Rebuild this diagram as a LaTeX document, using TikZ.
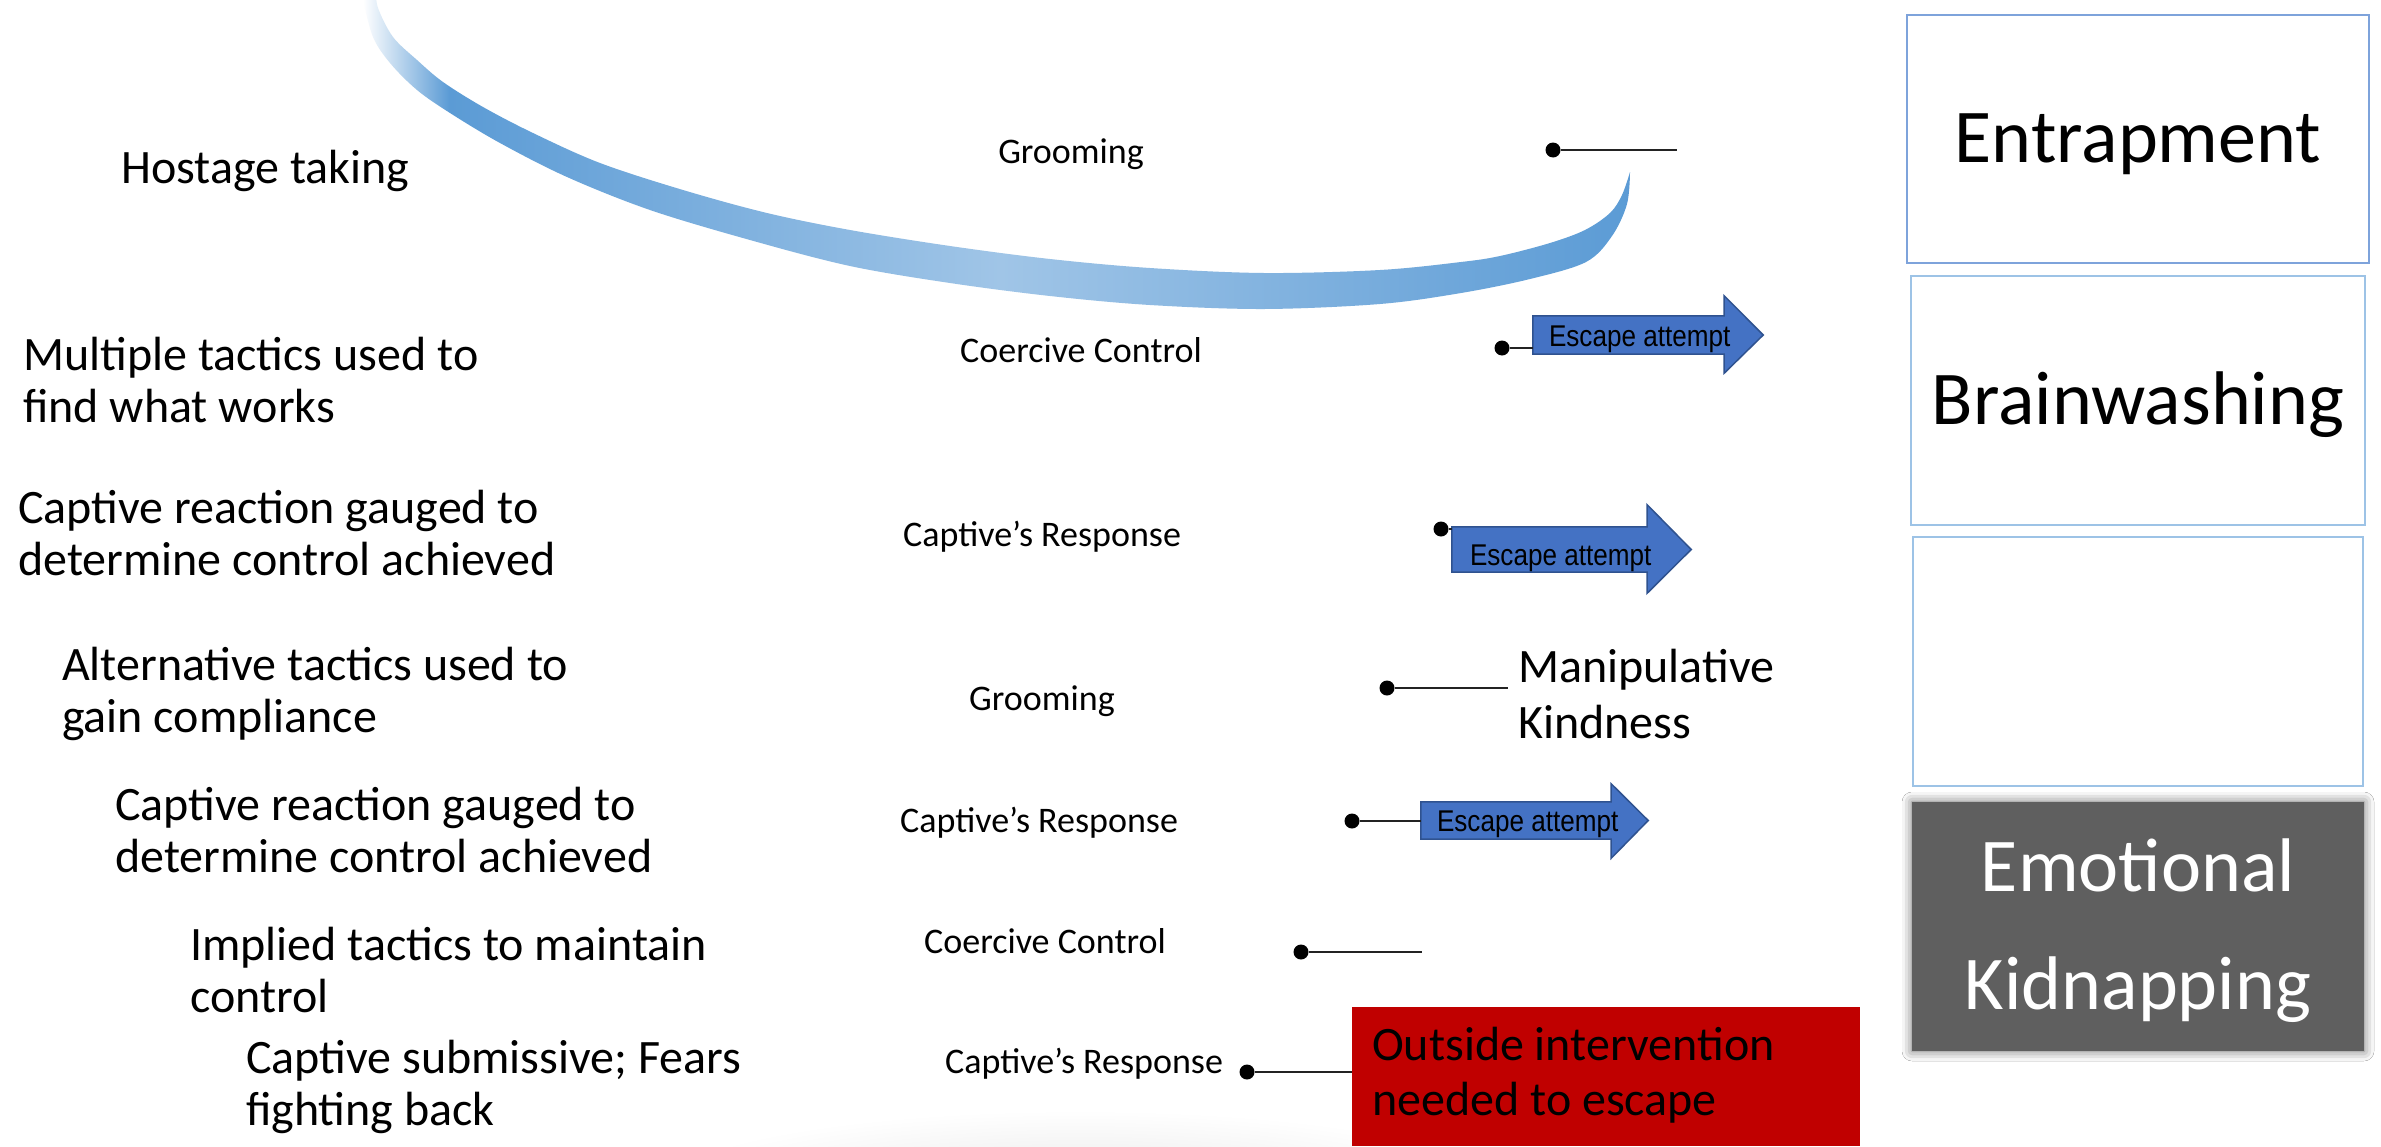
\documentclass[tikz,border=0pt]{standalone}
\usepackage{fontspec}
\setmainfont{Carlito}
\newfontfamily\escfont[FakeStretch=0.87]{Liberation Sans}
\usetikzlibrary{calc,shadows.blur}
\definecolor{bandblue}{RGB}{91,155,213}
\definecolor{bandlight}{RGB}{160,197,231}
\definecolor{arrowblue}{RGB}{68,114,196}
\definecolor{arrowedge}{RGB}{47,82,143}
\definecolor{boxedgeA}{RGB}{126,163,219}
\definecolor{boxedgeB}{RGB}{157,195,230}
\definecolor{kidgray}{RGB}{95,95,95}
\definecolor{alarmred}{RGB}{192,0,0}
\definecolor{linkgray}{RGB}{35,35,35}
\pgfdeclarehorizontalshading{bandshade}{100bp}{color(0bp)=(white); color(25bp)=(white); color(28.4bp)=(bandblue); color(50.1bp)=(bandlight); color(75bp)=(bandblue); color(100bp)=(bandblue)}
\newcommand{\stacktwo}[1]{\begin{tabular}[t]{@{}l@{}}#1\end{tabular}}
\begin{document}
\begin{tikzpicture}[x=1pt,y=-1pt,
  lefttxt/.style={anchor=base west, inner sep=0pt, font=\fontsize{48}{52}\selectfont},
  midlbl/.style={anchor=base, inner sep=0pt, font=\fontsize{36}{42}\selectfont},
  blackdot/.style={circle, fill=black, inner sep=0pt, minimum size=15pt},
  link/.style={draw=linkgray, line width=1.8pt},
  escbody/.style={inner sep=0pt, draw=none, fill=none},
  escarrow/.style={fill=arrowblue, draw=arrowedge, line width=1.5pt, line join=miter},
  esctext/.style={anchor=base west, inner sep=0pt, font=\escfont\fontsize{30}{34}\selectfont},
  stagebox/.style={draw=boxedgeB, line width=2pt, inner sep=0pt, font=\fontsize{76}{90}\selectfont, text height=47pt, text depth=0pt},
  kidbox/.style={fill=kidgray, text=white, inner sep=0pt, minimum width=452pt, minimum height=249pt, font=\fontsize{76}{118}\selectfont, blur shadow={shadow xshift=0pt, shadow yshift=0pt, shadow blur radius=10pt, shadow opacity=60}},
  redbox/.style={fill=alarmred, inner sep=0pt, minimum width=508pt, minimum height=139pt}
]
\useasboundingbox (0,0) rectangle (2381,1146);
\fill[white] (0,0) rectangle (2381,1146);
% faint glow at the bottom
\shade[inner color=black!9, outer color=white] (1080,1190) ellipse (430pt and 80pt);

% curved band
\begin{scope}
\clip plot[smooth, tension=0.55] coordinates {(360,-10) (363,0) (373,37) (390,63) (417,90) (450,113) (500,143) (567,177) (650,210) (750,240) (850,266) (950,283) (1050,296) (1150,305) (1264,309) (1380,304) (1461,293) (1530,279) (1586,262) (1612,236) (1627,204) (1630,172)}
 -- plot[smooth, tension=0.55] coordinates {(1630,172) (1622,195) (1610,213) (1585,230) (1550,243) (1500,256) (1461,262) (1380,270) (1264,273) (1150,268) (1050,259) (950,246) (850,230) (767,213) (683,190) (600,163) (533,133) (483,107) (443,82) (417,60) (393,37) (378,8) (376,-10)} -- cycle;
\shade[shading=bandshade] (363,-12) rectangle (1632,320);
\end{scope}

% left column
\node[lefttxt] (t1) at (121,183) {Hostage taking};
\node[lefttxt] (t2) at (23,370) {\stacktwo{Multiple tactics used to\\find what works}};
\node[lefttxt] (t3) at (18,523) {\stacktwo{Captive reaction gauged to\\determine control achieved}};
\node[lefttxt] (t4) at (62,680) {\stacktwo{Alternative tactics used to\\gain compliance}};
\node[lefttxt] (t5) at (115,820) {\stacktwo{Captive reaction gauged to\\determine control achieved}};
\node[lefttxt] (t6) at (190,960) {\stacktwo{Implied tactics to maintain\\control}};
\node[lefttxt] (t7) at (246,1073) {\stacktwo{Captive submissive; Fears\\fighting back}};

% middle labels
\node[midlbl] (m1) at (1071,163) {Grooming};
\node[midlbl] (m2) at (1081,362) {Coercive Control};
\node[midlbl] (m3) at (1042,546) {Captive’s Response};
\node[midlbl] (m4) at (1042,710) {Grooming};
\node[midlbl] (m5) at (1039,832) {Captive’s Response};
\node[midlbl] (m6) at (1045,953) {Coercive Control};
\node[midlbl] (m7) at (1084,1073) {Captive’s Response};

% row 1
\node[blackdot] (d1) at (1553,150) {};
\coordinate (e1) at (1677,150);
\draw[link] (d1) -- (e1);

% row 2 : escape attempt
\node[escbody, minimum width=191pt, minimum height=38pt] (ea1) at (1628.5,335) {};
\filldraw[escarrow] (ea1.north west) -- (ea1.north east) -- ([yshift=20pt]ea1.north east) -- ([xshift=39pt]ea1.east) -- ([yshift=-19pt]ea1.south east) -- (ea1.south east) -- (ea1.south west) -- cycle;
\node[esctext] (et1) at ([xshift=16pt,yshift=-11.7pt]ea1.west) {Escape attempt};
\node[blackdot] (d2) at (1502,348) {};
\draw[link] (d2) -- (d2 -| ea1.west);

% row 3 : escape attempt
\node[escbody, minimum width=195pt, minimum height=45pt] (ea2) at (1549.5,549.5) {};
\filldraw[escarrow] (ea2.north west) -- (ea2.north east) -- ([yshift=22pt]ea2.north east) -- ([xshift=44pt]ea2.east) -- ([yshift=-21pt]ea2.south east) -- (ea2.south east) -- (ea2.south west) -- cycle;
\node[esctext] (et2) at ([xshift=18pt,yshift=-15.5pt]ea2.west) {Escape attempt};
\node[blackdot] (d3) at (1441,529) {};
\draw[link] (d3) -- (d3 -| ea2.west);

% row 4 : manipulative kindness
\node[blackdot] (d4) at (1387,688) {};
\coordinate (e4) at (1508,688);
\draw[link] (d4) -- (e4);
\node[lefttxt, font=\fontsize{48}{56}\selectfont] (mk) at (1518,682) {\stacktwo{Manipulative\\Kindness}};

% row 5 : escape attempt
\node[escbody, minimum width=190pt, minimum height=37pt] (ea3) at (1516,820.5) {};
\filldraw[escarrow] (ea3.north west) -- (ea3.north east) -- ([yshift=18pt]ea3.north east) -- ([xshift=37pt]ea3.east) -- ([yshift=-19pt]ea3.south east) -- (ea3.south east) -- (ea3.south west) -- cycle;
\node[esctext] (et3) at ([xshift=16pt,yshift=-11.2pt]ea3.west) {Escape attempt};
\node[blackdot] (d5) at (1352,821) {};
\draw[link] (d5) -- (d5 -| ea3.west);

% row 6
\node[blackdot] (d6) at (1301,952) {};
\coordinate (e6) at (1422,952);
\draw[link] (d6) -- (e6);

% row 7 : outside intervention
\node[redbox] (red) at (1606,1076.5) {};
\node[lefttxt, font=\fontsize{48}{55}\selectfont] (redtxt) at (1372,1060) {\stacktwo{Outside intervention\\needed to escape}};
\node[blackdot] (d7) at (1247,1072) {};
\draw[link] (d7) -- (d7 -| red.west);

% right column
\node[stagebox, draw=boxedgeA, minimum width=462pt, minimum height=248pt] (ent) at (2138,139) {Entrapment};
\node[stagebox, minimum width=454pt, minimum height=249pt] (brw) at (2138,400.5) {Brainwashing};
\node[stagebox, minimum width=450pt, minimum height=249pt] (emp) at (2138,661.5) {};
\node[kidbox] (kid) at (2138,926.5) {\begin{tabular}{@{}c@{}}Emotional\\Kidnapping\end{tabular}};
\end{tikzpicture}
\end{document}
